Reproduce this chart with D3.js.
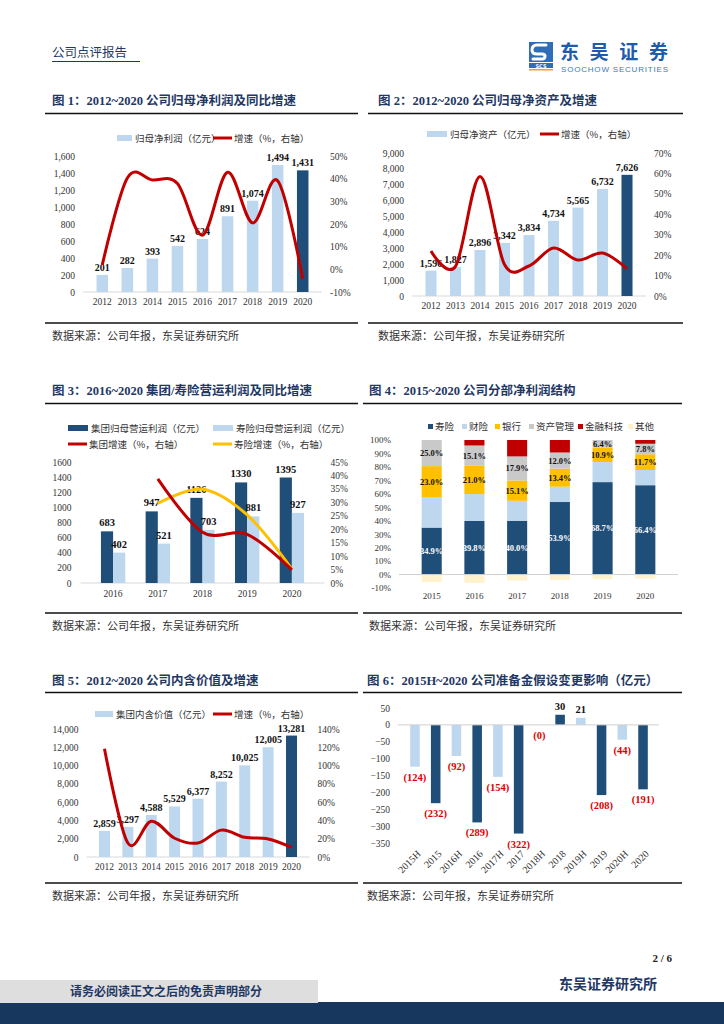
<!DOCTYPE html>
<html>
<head>
<meta charset="utf-8">
<script src="https://cdn.jsdelivr.net/npm/d3@7"></script>
<style>
body { margin: 0; background: #fff; }
svg { display: block; }
</style>
</head>
<body>
<script>
// ---- data ----
const years12 = ["2012", "2013", "2014", "2015", "2016", "2017", "2018", "2019", "2020"];
const profit = [201, 282, 393, 542, 624, 891, 1074, 1494, 1431];
const profitGrowth = [2, 40.3, 39.4, 37.9, 15.1, 42.8, 20.5, 39.1, -4.2];
const equity = [1596, 1827, 2896, 3342, 3834, 4734, 5565, 6732, 7626];
const equityGrowth = [22, 14.5, 58.5, 15.4, 14.7, 23.5, 17.6, 21.0, 13.3];

const years16 = ["2016", "2017", "2018", "2019", "2020"];
const groupOp = [683, 947, 1126, 1330, 1395];
const lifeOp = [402, 521, 703, 881, 927];
const groupOpGrowth = [null, 38.7, 18.9, 18.1, 4.9];
const lifeOpGrowth = [null, 29.6, 34.9, 25.3, 5.2];

const years15 = ["2015", "2016", "2017", "2018", "2019", "2020"];
const segNames = ["寿险", "财险", "银行", "资产管理", "金融科技", "其他"];
const segLife = [34.9, 39.8, 40.0, 53.9, 68.7, 66.4];
const segPC = [22.7, 20.0, 14.8, 11.4, 14.9, 11.3];
const segBank = [23.0, 21.0, 15.1, 13.4, 10.9, 11.7];
const segAsset = [25.0, 15.1, 17.9, 12.0, 6.4, 7.8];
const segFintech = [0, 10.3, 16.7, 13.3, 2.6, 5.8];
const segOther = [-5.6, -6.2, -4.5, -4.0, -3.5, -3.0];

const ev = [2859, 3297, 4588, 5529, 6377, 8252, 10025, 12005, 13281];
const evGrowth = [118.5, 15.3, 39.2, 20.5, 15.3, 29.4, 21.5, 19.7, 10.6];

const reservePeriods = ["2015H", "2015", "2016H", "2016", "2017H", "2017", "2018H", "2018", "2019H", "2019", "2020H", "2020"];
const reserveImpact = [-124, -232, -92, -289, -154, -322, 0, 30, 21, -208, -44, -191];

// ---- styles ----
const navy = "#1F3864";
const darkBlue = "#1F4E79";
const lightBlue = "#BDD7EE";
const red = "#C00000";
const yellow = "#FFC000";
const serif = "'Liberation Serif', 'Times New Roman', 'Noto Sans CJK SC', serif";
const cjk = "'Noto Sans CJK SC', sans-serif";
const titleFont = "'Liberation Serif', 'Noto Sans CJK SC', serif";

const svg = d3.select("body").append("svg")
    .attr("width", 724)
    .attr("height", 1024);

svg.append("rect").attr("width", 724).attr("height", 1024).attr("fill", "#fff");

// ---- header ----
svg.append("text")
    .attr("x", 52).attr("y", 57)
    .style("font-family", cjk).style("font-size", "12.5px")
    .attr("fill", navy)
    .text("公司点评报告");
svg.append("line")
    .attr("x1", 52).attr("x2", 140).attr("y1", 61.5).attr("y2", 61.5)
    .attr("stroke", navy).attr("stroke-width", 1);

// logo
const logo = svg.append("g");
logo.append("rect").attr("x", 529).attr("y", 42).attr("width", 24).attr("height", 20).attr("fill", "#2E6EB6");
logo.append("path")
    .attr("d", "M546,45 L537,45 Q532,45 532,50 Q532,54 537,54 L542,54 Q545,54 545,56 Q545,59 542,59 L533,59")
    .attr("fill", "none").attr("stroke", "#fff").attr("stroke-width", 3).attr("stroke-linecap", "round");
logo.append("rect").attr("x", 529).attr("y", 63).attr("width", 24).attr("height", 5).attr("fill", "#2E6EB6");
logo.append("text").attr("x", 541).attr("y", 67.5).attr("text-anchor", "middle")
    .style("font-family", "'DejaVu Sans', sans-serif").style("font-size", "5px").style("font-weight", "bold")
    .attr("fill", "#fff").text("SCS");
logo.append("rect").attr("x", 529).attr("y", 69).attr("width", 24).attr("height", 1.5).attr("fill", "#F0A030");
logo.append("text").attr("x", 560).attr("y", 58.5)
    .style("font-family", cjk).style("font-size", "19px").style("font-weight", "bold")
    .attr("fill", "#1E5BA8").attr("textLength", 108).text("东吴证券");
logo.append("text").attr("x", 561).attr("y", 72)
    .style("font-family", "'Liberation Sans', Arial, sans-serif").style("font-size", "8px")
    .attr("fill", "#3A78C2").attr("textLength", 107).text("SOOCHOW SECURITIES");

// ---- footer ----
svg.append("text").attr("x", 672).attr("y", 962).attr("text-anchor", "end")
    .style("font-family", serif).style("font-size", "11px").style("font-weight", "bold")
    .attr("fill", "#222").text("2 / 6");
svg.append("text").attr("x", 657).attr("y", 989).attr("text-anchor", "end")
    .style("font-family", cjk).style("font-size", "14px").style("font-weight", "bold")
    .attr("fill", navy).text("东吴证券研究所");
svg.append("rect").attr("x", 0).attr("y", 1002).attr("width", 724).attr("height", 22).attr("fill", "#17375E");
svg.append("rect").attr("x", 0).attr("y", 980).attr("width", 318).attr("height", 23).attr("fill", "#DEDEDE");
svg.append("text").attr("x", 166).attr("y", 996).attr("text-anchor", "middle")
    .style("font-family", cjk).style("font-size", "12px").style("font-weight", "bold")
    .attr("fill", navy).text("请务必阅读正文之后的免责声明部分");

// ---- frame helpers ----
function frame(tx, ty, lx1, lx2, lineY, srcX, srcY, botY, title) {
    svg.append("text").attr("x", tx).attr("y", ty)
        .style("font-family", titleFont).style("font-size", "12.5px").style("font-weight", "bold")
        .attr("fill", navy).text(title);
    svg.append("line").attr("x1", lx1).attr("x2", lx2).attr("y1", lineY).attr("y2", lineY)
        .attr("stroke", "#111").attr("stroke-width", 1.6);
    svg.append("line").attr("x1", lx1).attr("x2", lx2).attr("y1", botY).attr("y2", botY)
        .attr("stroke", "#111").attr("stroke-width", 1.4);
    svg.append("text").attr("x", srcX).attr("y", srcY)
        .style("font-family", cjk).style("font-size", "11px")
        .attr("fill", "#333").text("数据来源：公司年报，东吴证券研究所");
}

function styleAxis(g, size) {
    g.select(".domain").remove();
    g.selectAll("text")
        .style("font-family", serif)
        .style("font-size", (size || 9.5) + "px")
        .attr("fill", "#333");
}

function legendRect(x, y, color, label, w) {
    svg.append("rect").attr("x", x).attr("y", y - 3).attr("width", w || 15).attr("height", 6).attr("fill", color);
    svg.append("text").attr("x", x + (w || 15) + 3).attr("y", y + 3.5)
        .style("font-family", cjk).style("font-size", "9.5px").attr("fill", "#333").text(label);
}
function legendLine(x, y, color, label) {
    svg.append("line").attr("x1", x).attr("x2", x + 19).attr("y1", y).attr("y2", y)
        .attr("stroke", color).attr("stroke-width", 3);
    svg.append("text").attr("x", x + 21).attr("y", y + 3.5)
        .style("font-family", cjk).style("font-size", "9.5px").attr("fill", "#333").text(label);
}

const smooth = d3.curveCardinal.tension(0);

// bar + growth line chart
function barLine(c) {
    const x = d3.scaleBand().domain(c.cats).range([c.x0, c.x1]).padding(c.pad);
    const y = d3.scaleLinear().domain(c.yDom).range([c.y0, c.y1]);
    const y2 = d3.scaleLinear().domain(c.y2Dom).range([c.y0, c.y1]);

    svg.append("g").attr("transform", `translate(${c.x0},0)`)
        .call(d3.axisLeft(y).tickValues(c.yTicks).tickFormat(c.yFmt).tickSize(0).tickPadding(8))
        .call(g => styleAxis(g));
    svg.append("g").attr("transform", `translate(${c.x1},0)`)
        .call(d3.axisRight(y2).tickValues(c.y2Ticks).tickFormat(d => d + "%").tickSize(0).tickPadding(8))
        .call(g => styleAxis(g));
    svg.append("g").attr("transform", `translate(0,${c.y0})`)
        .call(d3.axisBottom(x).tickSize(0).tickPadding(6))
        .call(g => styleAxis(g));
    svg.append("line").attr("x1", c.x0).attr("x2", c.x1).attr("y1", c.y0).attr("y2", c.y0)
        .attr("stroke", "#D9D9D9").attr("stroke-width", 1);

    const rows = c.cats.map((k, i) => ({ k, v: c.vals[i], g: c.growth[i], last: i === c.cats.length - 1 }));

    svg.append("g").selectAll("rect").data(rows).join("rect")
        .attr("x", d => x(d.k))
        .attr("y", d => y(d.v))
        .attr("width", x.bandwidth())
        .attr("height", d => c.y0 - y(d.v))
        .attr("fill", d => d.last ? darkBlue : lightBlue);

    svg.append("g").selectAll("text").data(rows).join("text")
        .attr("x", d => x(d.k) + x.bandwidth() / 2)
        .attr("y", d => y(d.v) - 4)
        .attr("text-anchor", "middle")
        .style("font-family", serif).style("font-size", "10px").style("font-weight", "bold")
        .attr("fill", "#111")
        .text(d => d3.format(",")(d.v));

    const line = d3.line()
        .x(d => x(d.k) + x.bandwidth() / 2)
        .y(d => y2(d.g))
        .curve(smooth);
    svg.append("path").datum(rows).attr("d", line)
        .attr("fill", "none").attr("stroke", red).attr("stroke-width", 3);
}

// ---- chart 1 ----
frame(52, 105, 45, 358, 113.5, 52, 340, 323, "图 1：2012~2020 公司归母净利润及同比增速");
legendRect(117, 138, lightBlue, "归母净利润（亿元）");
legendLine(213, 138, red, "增速（%，右轴）");
barLine({
    cats: years12, vals: profit, growth: profitGrowth,
    x0: 83, x1: 322, y0: 292, y1: 156, pad: 0.54,
    yDom: [0, 1600], yTicks: d3.range(0, 1601, 200), yFmt: d3.format(","),
    y2Dom: [-10, 50], y2Ticks: d3.range(-10, 51, 10)
});

// ---- chart 2 ----
frame(378, 105, 368, 683, 113.5, 378, 340, 323, "图 2：2012~2020 公司归母净资产及增速");
legendRect(427, 134, lightBlue, "归母净资产（亿元）", 20);
legendLine(540, 134, red, "增速（%，右轴）");
barLine({
    cats: years12, vals: equity, growth: equityGrowth,
    x0: 412, x1: 646, y0: 296, y1: 153, pad: 0.55,
    yDom: [0, 9000], yTicks: d3.range(0, 9001, 1000), yFmt: d3.format(","),
    y2Dom: [0, 70], y2Ticks: d3.range(0, 71, 10)
});

// ---- chart 3 ----
frame(52, 395, 45, 358, 403.5, 52, 630, 613, "图 3：2016~2020 集团/寿险营运利润及同比增速");
legendRect(68, 428, darkBlue, "集团归母营运利润（亿元）", 20);
legendRect(213, 428, lightBlue, "寿险归母营运利润（亿元）", 20);
legendLine(68, 444, red, "集团增速（%，右轴）");
legendLine(213, 444, yellow, "寿险增速（%，右轴）");
(function () {
    const x0 = 80.6, x1 = 324.4, y0 = 583, y1 = 462;
    const x = d3.scaleBand().domain(years16).range([x0, x1]).padding(0.455);
    const xs = d3.scaleBand().domain(["g", "l"]).range([0, x.bandwidth()]);
    const y = d3.scaleLinear().domain([0, 1600]).range([y0, y1]);
    const y2 = d3.scaleLinear().domain([0, 45]).range([y0, y1]);

    svg.append("g").attr("transform", `translate(${x0},0)`)
        .call(d3.axisLeft(y).tickValues(d3.range(0, 1601, 200)).tickFormat(d3.format("d")).tickSize(0).tickPadding(9))
        .call(g => styleAxis(g));
    svg.append("g").attr("transform", `translate(${x1},0)`)
        .call(d3.axisRight(y2).tickValues(d3.range(0, 46, 5)).tickFormat(d => d + "%").tickSize(0).tickPadding(6))
        .call(g => styleAxis(g));
    svg.append("g").attr("transform", `translate(0,${y0})`)
        .call(d3.axisBottom(x).tickSize(0).tickPadding(7))
        .call(g => styleAxis(g));
    svg.append("line").attr("x1", x0).attr("x2", x1).attr("y1", y0).attr("y2", y0)
        .attr("stroke", "#D9D9D9");

    const rows = years16.map((k, i) => ({ k, g: groupOp[i], l: lifeOp[i], gg: groupOpGrowth[i], lg: lifeOpGrowth[i] }));
    const bars = [];
    rows.forEach(d => {
        bars.push({ k: d.k, s: "g", v: d.g, c: darkBlue });
        bars.push({ k: d.k, s: "l", v: d.l, c: lightBlue });
    });
    svg.append("g").selectAll("rect").data(bars).join("rect")
        .attr("x", d => x(d.k) + xs(d.s))
        .attr("y", d => y(d.v))
        .attr("width", xs.bandwidth())
        .attr("height", d => y0 - y(d.v))
        .attr("fill", d => d.c);
    svg.append("g").selectAll("text").data(bars).join("text")
        .attr("x", d => x(d.k) + xs(d.s) + xs.bandwidth() / 2)
        .attr("y", d => y(d.v) - 5)
        .attr("text-anchor", "middle")
        .style("font-family", serif).style("font-size", "10.5px").style("font-weight", "bold")
        .attr("fill", "#111").text(d => d.v);

    const cx = k => x(k) + x.bandwidth() / 2;
    const pts = rows.filter(d => d.gg !== null);
    svg.append("path").datum(pts)
        .attr("d", d3.line().x(d => cx(d.k)).y(d => y2(d.lg)).curve(smooth))
        .attr("fill", "none").attr("stroke", yellow).attr("stroke-width", 3);
    svg.append("path").datum(pts)
        .attr("d", d3.line().x(d => cx(d.k)).y(d => y2(d.gg)).curve(smooth))
        .attr("fill", "none").attr("stroke", red).attr("stroke-width", 3);
})();

// ---- chart 4 ----
frame(369, 395, 363, 682, 403.5, 369, 630, 613, "图 4：2015~2020 公司分部净利润结构");
(function () {
    const segColors = [darkBlue, lightBlue, yellow, "#C9C9C9", red, "#FFF2CC"];
    const legX = [428, 462, 495, 529, 578, 628];
    segNames.forEach((n, i) => {
        svg.append("rect").attr("x", legX[i]).attr("y", 424).attr("width", 5).attr("height", 5).attr("fill", segColors[i]);
        svg.append("text").attr("x", legX[i] + 7).attr("y", 430)
            .style("font-family", cjk).style("font-size", "9.5px").attr("fill", "#333").text(n);
    });

    const x0 = 399, x1 = 678;
    const x = d3.scaleBand().domain(years15).range([x0, x1]).padding(0.53);
    const y = d3.scaleLinear().domain([-10, 100]).range([588, 440]);

    svg.append("g").attr("transform", `translate(${x0},0)`)
        .call(d3.axisLeft(y).tickValues(d3.range(-10, 101, 10)).tickFormat(d => d + "%").tickSize(0).tickPadding(8))
        .call(g => styleAxis(g, 9));
    svg.append("g").attr("transform", `translate(0,${y(-10)})`)
        .call(d3.axisBottom(x).tickSize(0).tickPadding(5))
        .call(g => styleAxis(g, 9));

    svg.append("defs").append("clipPath").attr("id", "clip4")
        .append("rect").attr("x", x0).attr("y", y(100)).attr("width", x1 - x0).attr("height", y(-10) - y(100));

    const series = [segLife, segPC, segBank, segAsset, segFintech];
    const cells = [];
    years15.forEach((k, i) => {
        let base = 0;
        series.forEach((s, j) => {
            cells.push({ k, j, lo: base, hi: base + s[i], v: s[i] });
            base += s[i];
        });
        cells.push({ k, j: 5, lo: segOther[i], hi: 0, v: segOther[i] });
    });

    const plot = svg.append("g").attr("clip-path", "url(#clip4)");
    plot.selectAll("rect").data(cells).join("rect")
        .attr("x", d => x(d.k))
        .attr("y", d => y(d.hi))
        .attr("width", x.bandwidth())
        .attr("height", d => y(d.lo) - y(d.hi))
        .attr("fill", d => segColors[d.j]);

    svg.append("line").attr("x1", x0).attr("x2", x1).attr("y1", y(0)).attr("y2", y(0))
        .attr("stroke", "#D0D0D0");

    const labelled = cells.filter(d => d.j === 0 || d.j === 2 || d.j === 3);
    svg.append("g").selectAll("text").data(labelled).join("text")
        .attr("x", d => x(d.k) + x.bandwidth() / 2)
        .attr("y", d => y((d.lo + Math.min(d.hi, 100)) / 2) + 3)
        .attr("text-anchor", "middle")
        .style("font-family", serif).style("font-size", "8.5px").style("font-weight", "bold")
        .attr("fill", d => d.j === 0 ? "#fff" : "#111")
        .text(d => d.v.toFixed(1) + "%");
})();

// ---- chart 5 ----
frame(52, 685, 45, 358, 692.5, 52, 900, 883, "图 5：2012~2020 公司内含价值及增速");
legendRect(95, 714, lightBlue, "集团内含价值（亿元）", 18);
legendLine(213, 714, red, "增速（%，右轴）");
barLine({
    cats: years12, vals: ev, growth: evGrowth,
    x0: 86.6, x1: 309.4, y0: 857, y1: 729, pad: 0.53,
    yDom: [0, 14000], yTicks: d3.range(0, 14001, 2000), yFmt: d3.format(","),
    y2Dom: [0, 140], y2Ticks: d3.range(0, 141, 20)
});

// ---- chart 6 ----
frame(367, 685, 363, 682, 692.5, 367, 900, 883, "图 6：2015H~2020 公司准备金假设变更影响（亿元）");
(function () {
    const x0 = 399, x1 = 659;
    const x = d3.scaleBand().domain(reservePeriods).range([x0, x1]).padding(0.54);
    const y = d3.scaleLinear().domain([-350, 50]).range([843, 708]);

    svg.append("g").attr("transform", `translate(${x0},0)`)
        .call(d3.axisLeft(y).tickValues(d3.range(-350, 51, 50)).tickSize(0).tickPadding(9))
        .call(g => styleAxis(g));

    const rows = reservePeriods.map((k, i) => ({ k, v: reserveImpact[i], half: k.endsWith("H") }));
    svg.append("g").selectAll("rect").data(rows).join("rect")
        .attr("x", d => x(d.k))
        .attr("y", d => y(Math.max(0, d.v)))
        .attr("width", x.bandwidth())
        .attr("height", d => Math.abs(y(d.v) - y(0)))
        .attr("fill", d => d.half ? lightBlue : darkBlue);

    svg.append("line").attr("x1", x0 - 1).attr("x2", x1).attr("y1", y(0)).attr("y2", y(0))
        .attr("stroke", "#D0D0D0");

    svg.append("g").selectAll("text").data(rows).join("text")
        .attr("x", d => x(d.k) + x.bandwidth() / 2)
        .attr("y", d => d.v > 0 ? y(d.v) - 5 : y(d.v) + 14)
        .attr("text-anchor", "middle")
        .style("font-family", serif).style("font-size", "10.5px").style("font-weight", "bold")
        .attr("fill", d => d.v > 0 ? "#111" : "#E00000")
        .text(d => d.v > 0 ? d.v : "(" + Math.abs(d.v) + ")");

    svg.append("g").attr("transform", `translate(0,850)`)
        .call(d3.axisBottom(x).tickSize(0).tickPadding(0))
        .call(g => styleAxis(g, 10))
        .call(g => g.selectAll("text")
            .attr("text-anchor", "end")
            .attr("dy", "0.35em")
            .attr("transform", "translate(4,2) rotate(-45)"));
})();
</script>
</body>
</html>
